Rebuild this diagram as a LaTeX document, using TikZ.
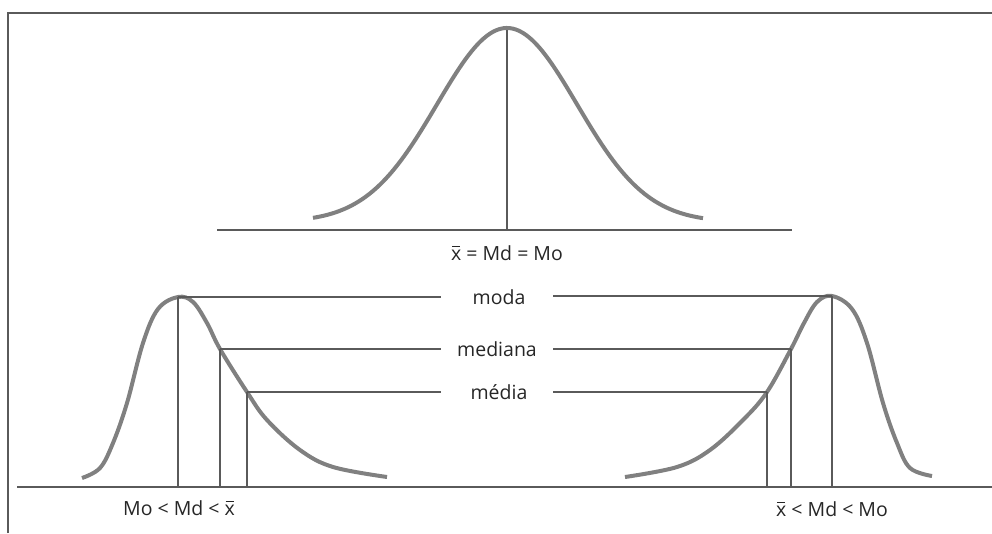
\documentclass[tikz,border=0pt]{standalone}
\usepackage{fontspec}
\setmainfont{Open Sans}
\newcommand\xbarsym{\ooalign{x\cr\hidewidth\raisebox{0.66em}{\rule{0.42em}{0.055em}}\hidewidth\cr}}
\begin{document}
\begin{tikzpicture}[x=1pt,y=-1pt,
  curve/.style={draw=curvegray,line width=4pt},
  thin/.style={draw=linegray,line width=1.6pt},
  frame/.style={draw=framegray,line width=1.8pt},
  lbl/.style={inner sep=0pt,font=\fontsize{19.5}{23}\selectfont,text=black!85}]
\definecolor{curvegray}{HTML}{808080}
\definecolor{linegray}{HTML}{5A5A5A}
\definecolor{framegray}{HTML}{5A5A5A}
\useasboundingbox (0,0) rectangle (992,533);
% frame
\coordinate (fTL) at (8,13);
\coordinate (fTR) at (992,13);
\coordinate (fBL) at (8,533);
\draw[frame] (fBL) -- (fTL) -- (fTR);
% ---------- top symmetric curve
\coordinate (tb1) at (217,230);
\coordinate (tb2) at (792,230);
\coordinate (tpk) at (507,28);
\coordinate (tpkb) at (507,230);
\draw[thin] (tb1) -- (tb2);
\draw[thin] (tpk) -- (tpkb);
\draw[curve] plot[domain=313:703,samples=120,smooth] (\x,{222-194*exp(-((\x-507)/70)^2/2)});
\node[lbl] (tlab) at (507,253) {\xbarsym{} = Md = Mo};
% ---------- bottom baseline
\coordinate (bb1) at (17,487);
\coordinate (bb2) at (992,487);
\draw[thin] (bb1) -- (bb2);
% ---------- left (positively skewed) curve
\coordinate (Lmo) at (178,297);
\coordinate (Lmd) at (220,349);
\coordinate (Lme) at (247,392);
\draw[curve] plot[smooth,tension=0.6] coordinates {(82,478) (100,468) (113,443) (127,403) (143,343) (158,309) (178,297) (193,302) (207,323) (220,349) (247,392) (267,420) (300,450) (333,467) (387,477)};
\draw[thin] (Lmo) -- (Lmo |- bb1);
\draw[thin] (Lmd) -- (Lmd |- bb1);
\draw[thin] (Lme) -- (Lme |- bb1);
\node[lbl] (llab) at (179,508) {Mo < Md < \xbarsym};
% ---------- right (negatively skewed) curve
\coordinate (Rmo) at (832,296);
\coordinate (Rmd) at (791,349);
\coordinate (Rme) at (767,392);
\draw[curve] plot[smooth,tension=0.6] coordinates {(625,477) (677,467) (710,450) (743,420) (767,392) (791,349) (804,323) (817,302) (832,296) (852,309) (867,343) (883,403) (897,443) (910,468) (932,476)};
\draw[thin] (Rmo) -- (Rmo |- bb1);
\draw[thin] (Rmd) -- (Rmd |- bb1);
\draw[thin] (Rme) -- (Rme |- bb1);
\node[lbl] (rlab) at (832,509) {\xbarsym{} < Md < Mo};
% ---------- middle labels and leaders
\node[lbl] (moda) at (499,297) {moda};
\node[lbl] (mediana) at (497,349) {mediana};
\node[lbl] (media) at (499,392) {média};
\coordinate (cl) at (441,0);
\coordinate (cr) at (553,0);
\draw[thin] (Lmo) -- (Lmo -| cl);
\draw[thin] (Lmd) -- (Lmd -| cl);
\draw[thin] (Lme) -- (Lme -| cl);
\draw[thin] (Rmo -| cr) -- (Rmo);
\draw[thin] (Rmd -| cr) -- (Rmd);
\draw[thin] (Rme -| cr) -- (Rme);
\end{tikzpicture}
\end{document}
